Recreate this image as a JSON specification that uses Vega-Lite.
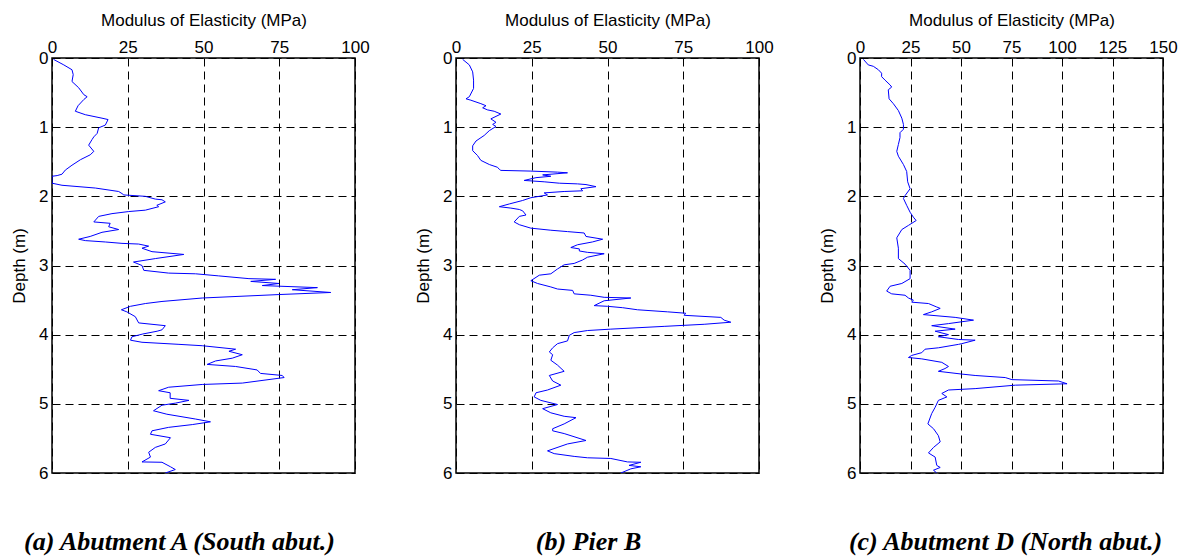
{
"$schema": "https://vega.github.io/schema/vega-lite/v6.json",
"padding": {"left": 9, "top": 10, "right": 5, "bottom": 0},
"background": "white",
"spacing": 101,
"bounds": "flush",
"config": {
  "view": {"stroke": "black", "strokeWidth": 1.5},
  "font": "Liberation Sans",
  "axis": {"grid": true, "gridColor": "black", "gridDash": [8, 5], "gridOpacity": 1, "gridWidth": 1, "domain": false, "ticks": false, "labelFontSize": 17, "labelColor": "black", "titleFontSize": 17, "titleFontWeight": "normal", "titleColor": "black", "labelFlush": false, "labelFont": "Liberation Sans", "titleFont": "Liberation Sans"},
  "axisX": {"labelPadding": 2, "titlePadding": 9},
  "axisY": {"labelPadding": 4, "titlePadding": 10},
  "title": {"font": "Liberation Serif", "fontSize": 26, "fontStyle": "italic", "fontWeight": "bold", "color": "black", "orient": "bottom", "anchor": "middle", "baseline": "top", "offset": 48}
},
"datasets": {
"A": [{"modulus":0.5,"depth":0.02},{"modulus":3.9,"depth":0.1},{"modulus":6.6,"depth":0.17},{"modulus":7,"depth":0.24},{"modulus":6.6,"depth":0.34},{"modulus":8.8,"depth":0.43},{"modulus":10.5,"depth":0.53},{"modulus":11.6,"depth":0.56},{"modulus":10.5,"depth":0.6},{"modulus":8.6,"depth":0.69},{"modulus":7.7,"depth":0.77},{"modulus":11,"depth":0.82},{"modulus":16.5,"depth":0.87},{"modulus":18.5,"depth":0.89},{"modulus":17.6,"depth":0.97},{"modulus":15.4,"depth":1.01},{"modulus":14.9,"depth":1.09},{"modulus":13.8,"depth":1.14},{"modulus":13.2,"depth":1.18},{"modulus":12.1,"depth":1.26},{"modulus":13.8,"depth":1.35},{"modulus":12.6,"depth":1.4},{"modulus":9.4,"depth":1.47},{"modulus":6.6,"depth":1.55},{"modulus":4.4,"depth":1.62},{"modulus":3.3,"depth":1.68},{"modulus":1.7,"depth":1.7},{"modulus":0,"depth":1.71},{"modulus":0,"depth":1.81},{"modulus":3.3,"depth":1.84},{"modulus":14.3,"depth":1.88},{"modulus":22,"depth":1.93},{"modulus":23.1,"depth":1.96},{"modulus":23.7,"depth":1.98},{"modulus":30.8,"depth":2.0},{"modulus":34.1,"depth":2.04},{"modulus":36.3,"depth":2.05},{"modulus":37.4,"depth":2.08},{"modulus":34.6,"depth":2.13},{"modulus":35.2,"depth":2.15},{"modulus":30.8,"depth":2.2},{"modulus":25.3,"depth":2.22},{"modulus":19.8,"depth":2.25},{"modulus":15.4,"depth":2.29},{"modulus":13.8,"depth":2.37},{"modulus":16.5,"depth":2.38},{"modulus":19.2,"depth":2.39},{"modulus":18.7,"depth":2.44},{"modulus":22,"depth":2.48},{"modulus":16.5,"depth":2.52},{"modulus":12.6,"depth":2.58},{"modulus":8.8,"depth":2.62},{"modulus":11,"depth":2.64},{"modulus":17.6,"depth":2.66},{"modulus":23.1,"depth":2.68},{"modulus":28.6,"depth":2.69},{"modulus":31.9,"depth":2.72},{"modulus":29.7,"depth":2.75},{"modulus":33,"depth":2.8},{"modulus":43.5,"depth":2.84},{"modulus":34.1,"depth":2.9},{"modulus":26.9,"depth":2.95},{"modulus":29.7,"depth":3.0},{"modulus":30.3,"depth":3.07},{"modulus":38.5,"depth":3.11},{"modulus":47.4,"depth":3.12},{"modulus":55,"depth":3.15},{"modulus":65,"depth":3.19},{"modulus":73.8,"depth":3.2},{"modulus":65.6,"depth":3.23},{"modulus":74.9,"depth":3.26},{"modulus":69.4,"depth":3.29},{"modulus":87.6,"depth":3.32},{"modulus":79.3,"depth":3.35},{"modulus":92,"depth":3.39},{"modulus":74.9,"depth":3.42},{"modulus":49.6,"depth":3.47},{"modulus":36.3,"depth":3.52},{"modulus":30.8,"depth":3.55},{"modulus":25.9,"depth":3.59},{"modulus":22.9,"depth":3.64},{"modulus":24.7,"depth":3.67},{"modulus":27.5,"depth":3.74},{"modulus":28.6,"depth":3.83},{"modulus":37.4,"depth":3.87},{"modulus":36.3,"depth":3.93},{"modulus":34.7,"depth":3.95},{"modulus":30,"depth":3.99},{"modulus":26.4,"depth":4.03},{"modulus":25.9,"depth":4.08},{"modulus":29.7,"depth":4.11},{"modulus":41.9,"depth":4.14},{"modulus":49.6,"depth":4.16},{"modulus":60.6,"depth":4.21},{"modulus":58.4,"depth":4.24},{"modulus":62.8,"depth":4.29},{"modulus":59.5,"depth":4.34},{"modulus":54,"depth":4.38},{"modulus":51.2,"depth":4.43},{"modulus":60.6,"depth":4.46},{"modulus":67.7,"depth":4.51},{"modulus":68.8,"depth":4.56},{"modulus":76,"depth":4.59},{"modulus":76.6,"depth":4.62},{"modulus":62.8,"depth":4.7},{"modulus":49.6,"depth":4.72},{"modulus":38.5,"depth":4.76},{"modulus":35.2,"depth":4.81},{"modulus":39,"depth":4.84},{"modulus":39,"depth":4.92},{"modulus":45.2,"depth":4.95},{"modulus":40.7,"depth":4.99},{"modulus":36.3,"depth":5.02},{"modulus":33.5,"depth":5.1},{"modulus":37.9,"depth":5.15},{"modulus":47.4,"depth":5.22},{"modulus":52.3,"depth":5.26},{"modulus":46.3,"depth":5.3},{"modulus":38.5,"depth":5.34},{"modulus":33,"depth":5.39},{"modulus":32.5,"depth":5.44},{"modulus":39.1,"depth":5.49},{"modulus":37.4,"depth":5.58},{"modulus":34.1,"depth":5.63},{"modulus":31.9,"depth":5.7},{"modulus":32.5,"depth":5.77},{"modulus":29.7,"depth":5.84},{"modulus":36.3,"depth":5.845},{"modulus":39.1,"depth":5.91},{"modulus":40.7,"depth":5.95},{"modulus":37.4,"depth":6.0}],
"B": [{"modulus":2.2,"depth":0.02},{"modulus":4.4,"depth":0.1},{"modulus":5.5,"depth":0.2},{"modulus":5.8,"depth":0.32},{"modulus":5.8,"depth":0.44},{"modulus":4.4,"depth":0.56},{"modulus":3.3,"depth":0.59},{"modulus":4.9,"depth":0.61},{"modulus":8.2,"depth":0.66},{"modulus":9.9,"depth":0.69},{"modulus":8.8,"depth":0.72},{"modulus":10.4,"depth":0.75},{"modulus":12.6,"depth":0.77},{"modulus":14.8,"depth":0.81},{"modulus":11.5,"depth":0.88},{"modulus":13.2,"depth":0.93},{"modulus":12.1,"depth":0.96},{"modulus":13.2,"depth":0.99},{"modulus":11,"depth":1.05},{"modulus":9.3,"depth":1.12},{"modulus":6.6,"depth":1.2},{"modulus":5.5,"depth":1.27},{"modulus":5.5,"depth":1.34},{"modulus":7.1,"depth":1.41},{"modulus":8.2,"depth":1.48},{"modulus":11,"depth":1.54},{"modulus":13.7,"depth":1.58},{"modulus":14.3,"depth":1.61},{"modulus":14.8,"depth":1.625},{"modulus":24.7,"depth":1.635},{"modulus":33.5,"depth":1.65},{"modulus":36.8,"depth":1.66},{"modulus":28.6,"depth":1.69},{"modulus":31.3,"depth":1.71},{"modulus":26.4,"depth":1.73},{"modulus":22.5,"depth":1.77},{"modulus":29.1,"depth":1.79},{"modulus":34.1,"depth":1.81},{"modulus":40.1,"depth":1.82},{"modulus":42.9,"depth":1.83},{"modulus":46.2,"depth":1.86},{"modulus":41.2,"depth":1.89},{"modulus":41.8,"depth":1.92},{"modulus":35.7,"depth":1.93},{"modulus":29.1,"depth":1.95},{"modulus":30.2,"depth":1.98},{"modulus":24.7,"depth":2.02},{"modulus":22,"depth":2.06},{"modulus":17.6,"depth":2.11},{"modulus":14.3,"depth":2.15},{"modulus":18.1,"depth":2.17},{"modulus":20.9,"depth":2.19},{"modulus":22,"depth":2.21},{"modulus":23.1,"depth":2.27},{"modulus":20.9,"depth":2.29},{"modulus":19.2,"depth":2.37},{"modulus":20.9,"depth":2.41},{"modulus":24.7,"depth":2.46},{"modulus":31.3,"depth":2.49},{"modulus":36.8,"depth":2.51},{"modulus":42.3,"depth":2.53},{"modulus":42.9,"depth":2.58},{"modulus":48.4,"depth":2.62},{"modulus":45,"depth":2.66},{"modulus":40.1,"depth":2.7},{"modulus":37.9,"depth":2.74},{"modulus":40.7,"depth":2.76},{"modulus":40.7,"depth":2.79},{"modulus":43.4,"depth":2.81},{"modulus":48.9,"depth":2.83},{"modulus":43.4,"depth":2.88},{"modulus":41.8,"depth":2.92},{"modulus":39,"depth":2.97},{"modulus":35.7,"depth":2.99},{"modulus":33.5,"depth":3.05},{"modulus":31.3,"depth":3.12},{"modulus":27.5,"depth":3.14},{"modulus":24.7,"depth":3.22},{"modulus":26.9,"depth":3.26},{"modulus":31.3,"depth":3.31},{"modulus":33.5,"depth":3.34},{"modulus":38.5,"depth":3.36},{"modulus":39,"depth":3.41},{"modulus":44.5,"depth":3.43},{"modulus":48.9,"depth":3.46},{"modulus":57.7,"depth":3.47},{"modulus":48.9,"depth":3.51},{"modulus":45.6,"depth":3.58},{"modulus":50,"depth":3.59},{"modulus":55,"depth":3.61},{"modulus":59.9,"depth":3.64},{"modulus":69.8,"depth":3.67},{"modulus":75.8,"depth":3.69},{"modulus":75.3,"depth":3.72},{"modulus":87.4,"depth":3.75},{"modulus":88.5,"depth":3.79},{"modulus":90.7,"depth":3.82},{"modulus":81.9,"depth":3.85},{"modulus":68.7,"depth":3.88},{"modulus":51.1,"depth":3.92},{"modulus":43.4,"depth":3.94},{"modulus":39,"depth":3.97},{"modulus":37.4,"depth":4.01},{"modulus":36.8,"depth":4.09},{"modulus":33.5,"depth":4.13},{"modulus":31.9,"depth":4.19},{"modulus":30.8,"depth":4.25},{"modulus":31.9,"depth":4.29},{"modulus":31.3,"depth":4.37},{"modulus":33.5,"depth":4.44},{"modulus":35.7,"depth":4.53},{"modulus":30.8,"depth":4.59},{"modulus":31.9,"depth":4.67},{"modulus":34.6,"depth":4.73},{"modulus":30.2,"depth":4.8},{"modulus":26.4,"depth":4.84},{"modulus":25.8,"depth":4.9},{"modulus":28,"depth":4.95},{"modulus":33.5,"depth":5.01},{"modulus":28.6,"depth":5.07},{"modulus":31.3,"depth":5.13},{"modulus":35.7,"depth":5.18},{"modulus":39.6,"depth":5.2},{"modulus":35.7,"depth":5.29},{"modulus":31.9,"depth":5.36},{"modulus":31.9,"depth":5.39},{"modulus":35.7,"depth":5.43},{"modulus":42.9,"depth":5.53},{"modulus":36.8,"depth":5.58},{"modulus":30.2,"depth":5.68},{"modulus":32.4,"depth":5.72},{"modulus":39,"depth":5.76},{"modulus":43.4,"depth":5.78},{"modulus":51.1,"depth":5.79},{"modulus":56.6,"depth":5.84},{"modulus":61,"depth":5.845},{"modulus":57.1,"depth":5.89},{"modulus":61,"depth":5.91},{"modulus":57.7,"depth":5.94},{"modulus":54.4,"depth":6.0}],
"C": [{"modulus":1.7,"depth":0.02},{"modulus":4.1,"depth":0.1},{"modulus":6.6,"depth":0.12},{"modulus":9.1,"depth":0.17},{"modulus":10.7,"depth":0.22},{"modulus":10.7,"depth":0.27},{"modulus":12.4,"depth":0.32},{"modulus":14.9,"depth":0.39},{"modulus":15.7,"depth":0.42},{"modulus":14,"depth":0.46},{"modulus":14.4,"depth":0.59},{"modulus":16.5,"depth":0.66},{"modulus":19,"depth":0.76},{"modulus":20.7,"depth":0.87},{"modulus":21.5,"depth":0.96},{"modulus":21.5,"depth":1.03},{"modulus":19.8,"depth":1.08},{"modulus":19.8,"depth":1.15},{"modulus":19,"depth":1.25},{"modulus":18.2,"depth":1.35},{"modulus":19,"depth":1.42},{"modulus":21.5,"depth":1.54},{"modulus":23.1,"depth":1.64},{"modulus":23.6,"depth":1.79},{"modulus":24.8,"depth":1.89},{"modulus":22.3,"depth":1.99},{"modulus":21.5,"depth":2.03},{"modulus":23.1,"depth":2.13},{"modulus":24.8,"depth":2.23},{"modulus":26.4,"depth":2.3},{"modulus":27.8,"depth":2.35},{"modulus":24,"depth":2.42},{"modulus":20.7,"depth":2.48},{"modulus":18.2,"depth":2.6},{"modulus":19,"depth":2.75},{"modulus":19,"depth":2.9},{"modulus":22.3,"depth":2.98},{"modulus":24.8,"depth":3.07},{"modulus":24.8,"depth":3.19},{"modulus":20.7,"depth":3.26},{"modulus":14.9,"depth":3.3},{"modulus":13.2,"depth":3.37},{"modulus":15.7,"depth":3.41},{"modulus":22.3,"depth":3.43},{"modulus":24,"depth":3.47},{"modulus":26.4,"depth":3.5},{"modulus":25.6,"depth":3.53},{"modulus":33.9,"depth":3.55},{"modulus":38,"depth":3.6},{"modulus":39.7,"depth":3.62},{"modulus":35.5,"depth":3.67},{"modulus":31.4,"depth":3.71},{"modulus":47.1,"depth":3.75},{"modulus":56.2,"depth":3.79},{"modulus":43.8,"depth":3.84},{"modulus":35.5,"depth":3.87},{"modulus":47.1,"depth":3.92},{"modulus":37.2,"depth":3.95},{"modulus":43.8,"depth":4.0},{"modulus":38.8,"depth":4.03},{"modulus":48.8,"depth":4.07},{"modulus":57,"depth":4.08},{"modulus":50.4,"depth":4.13},{"modulus":48.8,"depth":4.14},{"modulus":38.8,"depth":4.19},{"modulus":32.2,"depth":4.21},{"modulus":30.6,"depth":4.26},{"modulus":25.6,"depth":4.3},{"modulus":24,"depth":4.33},{"modulus":30.6,"depth":4.35},{"modulus":40.5,"depth":4.4},{"modulus":43.8,"depth":4.46},{"modulus":42.1,"depth":4.49},{"modulus":38.8,"depth":4.53},{"modulus":50.4,"depth":4.57},{"modulus":57,"depth":4.59},{"modulus":71.9,"depth":4.62},{"modulus":75.2,"depth":4.65},{"modulus":98.3,"depth":4.67},{"modulus":102.5,"depth":4.71},{"modulus":76.9,"depth":4.73},{"modulus":57,"depth":4.78},{"modulus":43.8,"depth":4.8},{"modulus":40.5,"depth":4.85},{"modulus":43,"depth":4.9},{"modulus":38.8,"depth":4.95},{"modulus":37.2,"depth":5.05},{"modulus":35.5,"depth":5.14},{"modulus":33.6,"depth":5.29},{"modulus":36.4,"depth":5.36},{"modulus":38.8,"depth":5.46},{"modulus":39.7,"depth":5.55},{"modulus":36.4,"depth":5.63},{"modulus":33.9,"depth":5.71},{"modulus":37.2,"depth":5.77},{"modulus":38,"depth":5.89},{"modulus":39.7,"depth":5.92},{"modulus":36.4,"depth":5.96},{"modulus":38,"depth":6.0}]
},
"hconcat": [
{
  "data": {"name": "A"},
  "width": 303, "height": 415,
  "title": {"text": "(a) Abutment A (South abut.)", "dx": -24},
  "mark": {"type": "line", "color": "#0000ff", "strokeWidth": 1, "clip": true},
  "encoding": {
    "x": {"field": "modulus", "type": "quantitative", "scale": {"domain": [0, 100], "nice": false, "zero": false}, "axis": {"orient": "top", "values": [0, 25, 50, 75, 100], "title": "Modulus of Elasticity (MPa)"}},
    "y": {"field": "depth", "type": "quantitative", "scale": {"domain": [0, 6], "reverse": true, "nice": false}, "axis": {"values": [0, 1, 2, 3, 4, 5, 6], "title": "Depth (m)"}},
    "order": {"field": "depth", "type": "quantitative"}
  }
},
{
  "data": {"name": "B"},
  "width": 303, "height": 415,
  "title": {"text": "(b) Pier B", "dx": -19},
  "mark": {"type": "line", "color": "#0000ff", "strokeWidth": 1, "clip": true},
  "encoding": {
    "x": {"field": "modulus", "type": "quantitative", "scale": {"domain": [0, 100], "nice": false, "zero": false}, "axis": {"orient": "top", "values": [0, 25, 50, 75, 100], "title": "Modulus of Elasticity (MPa)"}},
    "y": {"field": "depth", "type": "quantitative", "scale": {"domain": [0, 6], "reverse": true, "nice": false}, "axis": {"values": [0, 1, 2, 3, 4, 5, 6], "title": "Depth (m)"}},
    "order": {"field": "depth", "type": "quantitative"}
  }
},
{
  "data": {"name": "C"},
  "width": 303, "height": 415,
  "title": {"text": "(c) Abutment D (North abut.)", "dx": -6},
  "mark": {"type": "line", "color": "#0000ff", "strokeWidth": 1, "clip": true},
  "encoding": {
    "x": {"field": "modulus", "type": "quantitative", "scale": {"domain": [0, 150], "nice": false, "zero": false}, "axis": {"orient": "top", "values": [0, 25, 50, 75, 100, 125, 150], "title": "Modulus of Elasticity (MPa)"}},
    "y": {"field": "depth", "type": "quantitative", "scale": {"domain": [0, 6], "reverse": true, "nice": false}, "axis": {"values": [0, 1, 2, 3, 4, 5, 6], "title": "Depth (m)"}},
    "order": {"field": "depth", "type": "quantitative"}
  }
}
]
}
